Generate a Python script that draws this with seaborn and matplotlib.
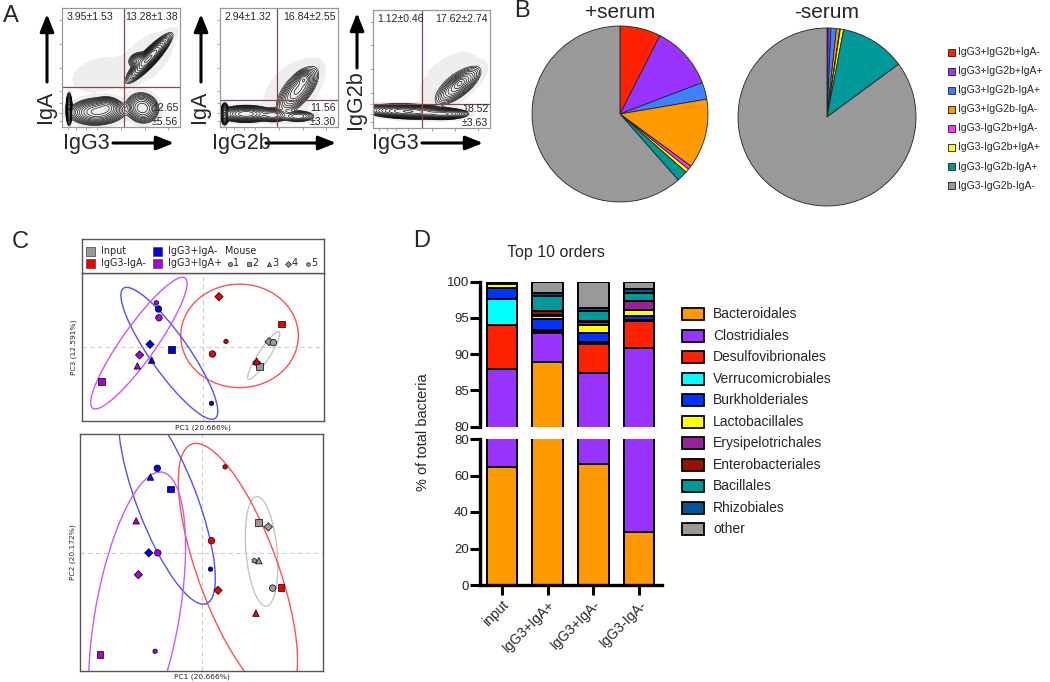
import numpy as np
import pandas as pd
import matplotlib
matplotlib.use("Agg")
import matplotlib.pyplot as plt
import seaborn as sns
from matplotlib.patches import Ellipse, Rectangle

sns.set_theme(style="white")
plt.rcParams["font.family"] = ["Liberation Sans", "DejaVu Sans"]

W, H = 1050, 682

# ---------------- Panel A : flow cytometry ----------------
flow_xlabels = ["IgG3", "IgG2b", "IgG3"]
flow_ylabels = ["IgA", "IgA", "IgG2b"]
flow_gate_x = [52.5, 48.3, 41.9]
flow_gate_y = [33.6, 22.7, 20.3]
flow_upper_left = ["3.95±1.53", "2.94±1.32", "1.12±0.46"]
flow_upper_right = ["13.28±1.38", "16.84±2.55", "17.62±2.74"]
flow_lower_right_mean = ["12.65", "11.56", "18.52"]
flow_lower_right_sd = ["±5.56", "±3.30", "±3.63"]
# cell populations: (x, y, sd along, sd across, angle, peak)
pops_igg3_iga = [(6, 15, 4.7, 0.9, 90, 1.0), (30, 13, 8.5, 4.0, 3, 0.8),
                 (38, 17, 4, 3, 0, 0.4), (74, 58, 9.5, 2.2, 47, 1.0),
                 (66, 56, 3.5, 2.5, 10, 0.3), (68, 16, 4.7, 5.3, 70, 0.45),
                 (32, 44, 14, 8, 15, 0.008), (72, 58, 16, 9, 45, 0.008)]
pops_igg2b_iga = [(4, 11, 3.2, 1.2, 90, 1.0), (22, 11, 8, 2.5, 0, 0.9),
                  (45, 10, 5, 2.2, 0, 0.3), (66, 31, 9, 4, 50, 0.35),
                  (71, 40, 3, 2.5, 50, 0.3), (66, 9, 6, 2, 0, 0.15),
                  (62, 32, 18, 11, 45, 0.008)]
pops_igg3_igg2b = [(30, 14, 13, 2.2, -2, 1.0), (60, 12, 8, 1.8, 0, 0.5),
                   (73, 36, 9, 3.5, 38, 0.3), (74, 38, 3, 2, 40, 0.25),
                   (66, 40, 18, 11, 40, 0.008)]
flow_pops = [pops_igg3_iga, pops_igg2b_iga, pops_igg3_igg2b]

# ---------------- Panel B : pies ----------------
pie_labels = ["IgG3+IgG2b+IgA-", "IgG3+IgG2b+IgA+", "IgG3+IgG2b-IgA+", "IgG3+IgG2b-IgA-",
              "IgG3-IgG2b+IgA-", "IgG3-IgG2b+IgA+", "IgG3-IgG2b-IgA+", "IgG3-IgG2b-IgA-"]
pie_colors = ["#FF2200", "#9933FF", "#4080FF", "#FF9900", "#FF33FF", "#FFFF00", "#009999", "#999999"]
serum_plus = [7.5, 11.7, 3.1, 12.8, 0.7, 0.7, 2.0, 61.5]
serum_minus = [0.2, 0.5, 1.0, 0.6, 0.1, 0.6, 11.9, 85.1]

# ---------------- Panel C : PCA ----------------
pca_group = ["Input"] * 5 + ["IgG3-IgA-"] * 5 + ["IgG3+IgA-"] * 5 + ["IgG3+IgA+"] * 5
pca_mouse = [4, 1, 5, 3, 2, 4, 2, 5, 1, 3, 1, 4, 2, 3, 5, 5, 1, 4, 3, 2]
pc1 = [0.274, 0.292, 0.216, 0.235, 0.235, 0.067, 0.326, 0.096, 0.040, 0.223,
       -0.183, -0.218, -0.130, -0.211, 0.036, -0.192, -0.181, -0.261, -0.270, -0.419]
pc2 = [0.109, -0.143, -0.030, -0.030, 0.126, -0.152, -0.142, 0.356, 0.052, -0.246,
       0.350, 0.002, 0.265, 0.314, -0.065, -0.403, 0.002, -0.088, 0.134, -0.416]
pc3 = [0.021, 0.017, -0.067, -0.073, -0.081, 0.207, 0.094, 0.022, -0.030, -0.059,
       0.156, 0.010, -0.011, -0.055, -0.234, 0.182, 0.120, -0.034, -0.079, -0.142]
ell_groups = ["Input", "IgG3-IgA-", "IgG3+IgA-", "IgG3+IgA+"]
ell13_cx = [0.252, 0.152, -0.138, -0.264]
ell13_cy = [-0.036, 0.045, -0.027, 0.015]
ell13_a = [0.117, 0.243, 0.329, 0.330]
ell13_b = [0.023, 0.214, 0.079, 0.070]
ell13_ang = [57, 0, -54.8, 54.7]
ell12_cx = [0.246, 0.149, -0.143, -0.266]
ell12_cy = [0.008, -0.073, 0.216, -0.254]
ell12_a = [0.226, 0.556, 0.453, 0.597]
ell12_b = [0.064, 0.165, 0.123, 0.173]
ell12_ang = [-85, -70, -69, 80]
pc_labels = ["PC1 (20.666%)", "PC2 (20.172%)", "PC3 (12.591%)"]

# ---------------- Panel D : stacked bars ----------------
samples = ["input", "IgG3+IgA+", "IgG3+IgA-", "IgG3-IgA-"]
orders = ["Bacteroidales", "Clostridiales", "Desulfovibrionales", "Verrucomicrobiales",
          "Burkholderiales", "Lactobacillales", "Erysipelotrichales", "Enterobacteriales",
          "Bacillales", "Rhizobiales", "other"]
order_colors = ["#FF9900", "#9933FF", "#FF2200", "#00FFFF", "#0033FF", "#FFFF00",
                "#992299", "#991100", "#009999", "#005599", "#999999"]
bacteroidales = [64.7, 88.9, 66.3, 29.2]
clostridiales = [23.2, 4.0, 21.15, 61.7]
desulfovibrionales = [6.1, 0.25, 3.95, 3.67]
verrucomicrobiales = [3.6, 0.25, 0.35, 0.13]
burkholderiales = [1.55, 1.5, 1.15, 0.6]
lactobacillales = [0.5, 0.3, 1.1, 0.8]
erysipelotrichales = [0.05, 0.2, 0.5, 1.2]
enterobacteriales = [0.05, 0.6, 0.1, 0.1]
bacillales = [0.1, 2.0, 1.4, 1.1]
rhizobiales = [0.05, 0.4, 0.4, 0.5]
other = [0.1, 1.6, 3.6, 1.0]
order_values = [bacteroidales, clostridiales, desulfovibrionales, verrucomicrobiales,
                burkholderiales, lactobacillales, erysipelotrichales, enterobacteriales,
                bacillales, rhizobiales, other]

# ======================================================================
fig = plt.figure(figsize=(W / 100, H / 100), dpi=100)


def fbox(x0, y0, x1, y1):
    return [x0 / W, 1 - y1 / H, (x1 - x0) / W, (y1 - y0) / H]


def ftext(x, y, s, **kw):
    return fig.text(x / W, 1 - y / H, s, **kw)


def farrow(x0, y0, x1, y1):
    fig.add_artist(matplotlib.patches.FancyArrowPatch(
        (x0 / W, 1 - y0 / H), (x1 / W, 1 - y1 / H), transform=fig.transFigure,
        arrowstyle="-|>,head_length=1.05,head_width=0.42", mutation_scale=10,
        lw=2.2, color="black", shrinkA=0, shrinkB=0))


# ---- Panel A
flow_boxes = [(62, 8, 180, 127), (220, 8, 338, 127), (373, 10, 490, 128)]
xlab_pos = [(86, 143, 113, 174), (241, 143, 266, 336), (395, 143, 422, 483)]
ylab_pos = [(45, 107, 82, 14), (199, 107, 82, 14), (355, 100, 68, 13)]
gx = np.linspace(0, 100, 320)
GX, GY = np.meshgrid(gx, gx)
for i in range(3):
    ax = fig.add_axes(fbox(*flow_boxes[i]))
    Z = np.zeros_like(GX)
    for cx, cy, sl, ss, ang, w in flow_pops[i]:
        t = np.deg2rad(ang)
        dx, dy = GX - cx, GY - cy
        u = dx * np.cos(t) + dy * np.sin(t)
        v = -dx * np.sin(t) + dy * np.cos(t)
        Z += w * np.exp(-0.5 * ((u / sl) ** 2 + (v / ss) ** 2))
    ax.contourf(GX, GY, Z, levels=[0.002, 1e9], colors=["#eeeeee"])
    ax.contour(GX, GY, Z, levels=np.geomspace(0.012, 0.95, 13), colors="black",
               linewidths=0.45)
    ax.axvline(flow_gate_x[i], color="#8a4545", lw=0.9)
    ax.axhline(flow_gate_y[i], color="#8a4545", lw=0.9)
    ax.set_xlim(0, 100)
    ax.set_ylim(0, 100)
    for sp in ax.spines.values():
        sp.set_color("#999999")
        sp.set_linewidth(0.9)
    ax.set_xticks([5, 12, 20, 30, 50, 70, 90])
    ax.set_yticks([5, 12, 20, 30, 50, 70, 90])
    ax.tick_params(length=2.5, width=0.6, color="#999999", labelleft=False,
                   labelbottom=False, left=True, bottom=True, direction="out")
    ax.text(0.04, 0.925, flow_upper_left[i], transform=ax.transAxes, fontsize=7.6,
            ha="left", va="center")
    ax.text(0.985, 0.925, flow_upper_right[i], transform=ax.transAxes, fontsize=7.6,
            ha="right", va="center")
    ax.text(0.985, 0.16, flow_lower_right_mean[i], transform=ax.transAxes, fontsize=7.6,
            ha="right", va="center")
    ax.text(0.985, 0.04, flow_lower_right_sd[i], transform=ax.transAxes, fontsize=7.6,
            ha="right", va="center")
    x, y, a0, a1 = xlab_pos[i]
    ftext(x, y, flow_xlabels[i], fontsize=15.5, ha="center", va="center")
    farrow(a0, y, a1, y)
    x, y, a0, a1 = ylab_pos[i]
    ftext(x, y, flow_ylabels[i], fontsize=15.5, ha="center", va="center", rotation=90)
    farrow(x + 2, a0, x + 2, a1)

ftext(11, 16, "A", fontsize=17, ha="center", va="center")

# ---- Panel B
ftext(522, 11, "B", fontsize=17, ha="center", va="center")
for vals, title, (cx, cy, r) in [(serum_plus, "+serum", (620, 114, 88)),
                                 (serum_minus, "-serum", (827, 117, 89))]:
    ax = fig.add_axes(fbox(cx - r, cy - r, cx + r, cy + r))
    wedges, _ = ax.pie(vals, colors=pie_colors, startangle=90, counterclock=False,
                       wedgeprops=dict(edgecolor="#222222", linewidth=0.6))
    for wd in wedges:
        wd.set_clip_on(False)
    ax.set_xlim(-1, 1)
    ax.set_ylim(-1, 1)
    ax.set_axis_off()
    ftext(cx, 12, title, fontsize=15, ha="center", va="center")
for i, (lab, col) in enumerate(zip(pie_labels, pie_colors)):
    yy = 52 + i * 19.1
    fig.add_artist(Rectangle(((948) / W, 1 - (yy + 3.5) / H), 7 / W, 7 / H,
                             transform=fig.transFigure, facecolor=col,
                             edgecolor="#333333", lw=0.7))
    ftext(958, yy, lab, fontsize=7.5, ha="left", va="center")

# ---- Panel C
ftext(20, 242, "C", fontsize=17, ha="center", va="center")
group_colors = {"Input": "#999999", "IgG3-IgA-": "#EE0000", "IgG3+IgA-": "#0000EE",
                "IgG3+IgA+": "#AA00DD"}
ell_colors = {"Input": "#C4C4C4", "IgG3-IgA-": "#FF5050", "IgG3+IgA-": "#5050FF",
              "IgG3+IgA+": "#CC55FF"}
mouse_markers = {1: "o", 2: "s", 3: "^", 4: "D", 5: "h"}
mouse_sizes = {1: 22, 2: 24, 3: 22, 4: 18, 5: 12}
df = pd.DataFrame({"group": pca_group, "mouse": pca_mouse, "PC1": pc1, "PC2": pc2,
                   "PC3": pc3})

panels = [("PC3", (82, 273, 324, 421), (-0.499, 0.501), (-0.307, 0.305),
           (ell13_cx, ell13_cy, ell13_a, ell13_b, ell13_ang), pc_labels[2], 428, 74),
          ("PC2", (80, 434, 323, 671), (-0.501, 0.499), (-0.484, 0.491),
           (ell12_cx, ell12_cy, ell12_a, ell12_b, ell12_ang), pc_labels[1], 677, 73)]
for ycol, bx, xl, yl, ell, ylab, xlab_y, ylab_x in panels:
    ax = fig.add_axes(fbox(*bx))
    ax.axvline(0, color="#cccccc", ls=(0, (4, 3)), lw=0.8, zorder=0)
    ax.axhline(0, color="#cccccc", ls=(0, (4, 3)), lw=0.8, zorder=0)
    for g, cx, cy, a, b, ang in zip(ell_groups, *ell):
        ax.add_patch(Ellipse((cx, cy), 2 * a, 2 * b, angle=ang, fill=False,
                             edgecolor=ell_colors[g], lw=1.0, zorder=1))
    sns.scatterplot(data=df, x="PC1", y=ycol, hue="group", palette=group_colors,
                    style="mouse", markers=mouse_markers, size="mouse",
                    sizes=mouse_sizes, edgecolor="black", linewidth=0.5,
                    legend=False, ax=ax, zorder=3)
    ax.set_xlim(*xl)
    ax.set_ylim(*yl)
    ax.set_xticks([])
    ax.set_yticks([])
    ax.set_xlabel("")
    ax.set_ylabel("")
    for sp in ax.spines.values():
        sp.set_color("#555555")
        sp.set_linewidth(1.0)
    cx = (bx[0] + bx[2]) / 2
    ftext(cx, xlab_y, pc_labels[0], fontsize=5.4, ha="center", va="center",
          family="DejaVu Sans")
    ftext(ylab_x, (bx[1] + bx[3]) / 2, ylab, fontsize=5.4, ha="center", va="center",
          rotation=90, family="DejaVu Sans")

# PCA legend box
lax = fig.add_axes(fbox(82, 239, 324, 273))
lax.set_xlim(82, 324)
lax.set_ylim(273, 239)
lax.set_xticks([])
lax.set_yticks([])
for sp in lax.spines.values():
    sp.set_color("#555555")
    sp.set_linewidth(1.0)
leg_items = [("Input", 90, 251), ("IgG3-IgA-", 90, 263.3), ("IgG3+IgA-", 157.3, 251),
             ("IgG3+IgA+", 157.3, 263.3)]
for g, x, y in leg_items:
    lax.add_patch(Rectangle((x - 4.5, y - 4.5), 9, 9, facecolor=group_colors[g],
                            edgecolor="#555555", lw=0.6))
    lax.text(x + 10.5, y, g, fontsize=6.9, ha="left", va="center", family="DejaVu Sans")
lax.text(240.5, 251, "Mouse", fontsize=6.9, ha="center", va="center",
         family="DejaVu Sans")
for m, x in zip([1, 2, 3, 4, 5], [230, 249, 269, 288.3, 308.3]):
    lax.scatter([x], [263.5], marker=mouse_markers[m], s=9, color="#999999",
                edgecolor="black", linewidth=0.4)
    lax.text(x + 3, 263.3, str(m), fontsize=6.9, ha="left", va="center",
             family="DejaVu Sans")

# ---- Panel D
ftext(422, 241, "D", fontsize=17, ha="center", va="center")
ftext(556, 252, "Top 10 orders", fontsize=11.5, ha="center", va="center")
vals = np.array(order_values)  # orders x samples
cum = np.cumsum(vals, axis=0)
ax_top = fig.add_axes(fbox(480, 281.7, 662, 426.7))
ax_bot = fig.add_axes(fbox(480, 439, 662, 585))
for ax in (ax_top, ax_bot):
    for k in reversed(range(len(orders))):
        sns.barplot(x=samples, y=cum[k], color=order_colors[k], width=0.67,
                    saturation=1, edgecolor="black", linewidth=1.4, errorbar=None, ax=ax)
    ax.set_xlim(-0.48, 3.5)
    ax.set_xlabel("")
    ax.set_ylabel("")
    for s in ("top", "right"):
        ax.spines[s].set_visible(False)
    ax.spines["left"].set_linewidth(2.4)
    ax.spines["left"].set_color("black")
    ax.tick_params(axis="y", length=7, width=2.2, color="black", labelsize=9.5, pad=1,
                   left=True, direction="out")
ax_top.set_ylim(80, 100)
ax_top.set_yticks([80, 85, 90, 95, 100])
ax_top.spines["bottom"].set_visible(False)
ax_top.set_xticks([])
ax_bot.set_ylim(0, 80)
ax_bot.set_yticks([0, 20, 40, 60, 80])
ax_bot.spines["bottom"].set_linewidth(2.4)
ax_bot.spines["bottom"].set_color("black")
ax_bot.tick_params(axis="x", length=7, width=2.2, color="black", labelsize=10, pad=2,
                   bottom=True, direction="out")
ax_bot.set_xticks(range(len(samples)))
ax_bot.set_xticklabels(samples, rotation=45, ha="right", va="top",
                       rotation_mode="anchor")
ftext(423, 432, "% of total bacteria", fontsize=10.5, ha="center", va="center",
      rotation=90)
for i, (lab, col) in enumerate(zip(orders, order_colors)):
    yy = 314 + i * 21.53
    fig.add_artist(Rectangle((682 / W, 1 - (yy + 6) / H), 21.5 / W, 12 / H,
                             transform=fig.transFigure, facecolor=col,
                             edgecolor="black", lw=1.3))
    ftext(713, yy, lab, fontsize=10, ha="left", va="center")

fig.savefig("out.png", dpi=100)
